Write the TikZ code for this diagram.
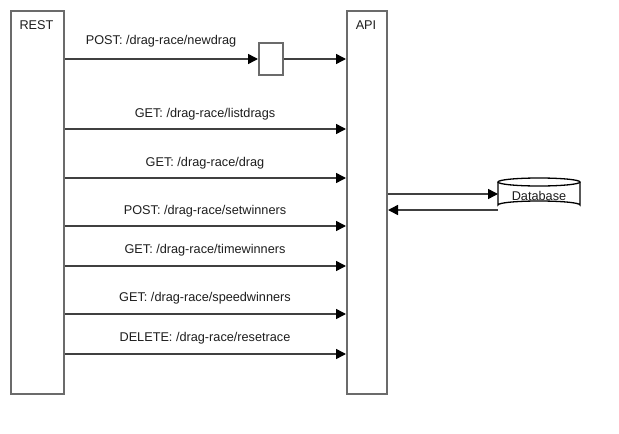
\documentclass[tikz,border=0pt]{standalone}
\usepackage{fontspec}
\setmainfont{Liberation Sans}
\usetikzlibrary{arrows.meta}
\definecolor{boxgray}{HTML}{6B6B6B}
\definecolor{linegray}{HTML}{404040}
\definecolor{txt}{HTML}{1E1E1E}
\tikzset{
  lane/.style={draw=boxgray, line width=2pt, fill=white, anchor=north west, inner sep=0pt},
  smallbox/.style={draw=boxgray, line width=2pt, fill=white, anchor=north west, inner sep=0pt, minimum width=24pt, minimum height=32pt},
  arr/.style={draw=linegray, line width=1.5pt, -{Triangle[length=10pt,width=10pt,color=black]}},
  lbl/.style={text=txt, font=\fontsize{12.7}{14}\selectfont, inner sep=0pt},
  title/.style={text=txt, font=\fontsize{12.7}{14}\selectfont, inner sep=0pt}
}
\begin{document}
\begin{tikzpicture}[x=1pt,y=-1pt]
\useasboundingbox[fill=white] (0,0) rectangle (619,434);
% lanes
\node[lane, minimum width=53pt, minimum height=383pt] (rest) at (10,10) {};
\node[lane, minimum width=40pt, minimum height=383pt] (api) at (346,10) {};
\node[title] (restlbl) at (36.5,25) {REST};
\node[title] (apilbl) at (366,25) {API};
% small box
\node[smallbox] (box) at (258,42) {};
% database cylinder
\coordinate (dbtl) at (498,182);
\coordinate (dbtr) at (580,182);
\coordinate (dbbl) at (498,205);
\coordinate (dbbr) at (580,205);
\fill[white] (498,182) -- (498,205) arc[start angle=180,end angle=360,x radius=41,y radius=4] -- (580,182) arc[start angle=0,end angle=180,x radius=41,y radius=4] -- cycle;
\draw[black, line width=1.3pt] (dbtl) -- (dbbl) arc[start angle=180,end angle=360,x radius=41,y radius=4] -- (dbtr);
\draw[black, line width=1.3pt] (539,182) ellipse[x radius=41,y radius=4];
\node[lbl] (db) at (539,196) {Database};
% arrows
\draw[arr] (rest.east |- box.west) -- (box.west);
\draw[arr] (box.east) -- (api.west |- box.east);
\node[lbl] (l1) at (161,41) {POST: /drag-race/newdrag};

\coordinate (y2) at (0,129);
\draw[arr] (rest.east |- y2) -- (api.west |- y2);
\node[lbl] (l2) at (205,114) {GET: /drag-race/listdrags};

\coordinate (y3) at (0,178);
\draw[arr] (rest.east |- y3) -- (api.west |- y3);
\node[lbl] (l3) at (205,163) {GET: /drag-race/drag};

\coordinate (y4) at (0,226);
\draw[arr] (rest.east |- y4) -- (api.west |- y4);
\node[lbl] (l4) at (205,211) {POST: /drag-race/setwinners};

\coordinate (y5) at (0,266);
\draw[arr] (rest.east |- y5) -- (api.west |- y5);
\node[lbl] (l5) at (205,250) {GET: /drag-race/timewinners};

\coordinate (y6) at (0,314);
\draw[arr] (rest.east |- y6) -- (api.west |- y6);
\node[lbl] (l6) at (205,298) {GET: /drag-race/speedwinners};

\coordinate (y7) at (0,354);
\draw[arr] (rest.east |- y7) -- (api.west |- y7);
\node[lbl] (l7) at (205,338) {DELETE: /drag-race/resetrace};

% api <-> database
\coordinate (ya) at (0,194);
\coordinate (yb) at (0,210);
\draw[arr] (api.east |- ya) -- (dbtl |- ya);
\draw[arr] (dbtl |- yb) -- (api.east |- yb);
\end{tikzpicture}
\end{document}
